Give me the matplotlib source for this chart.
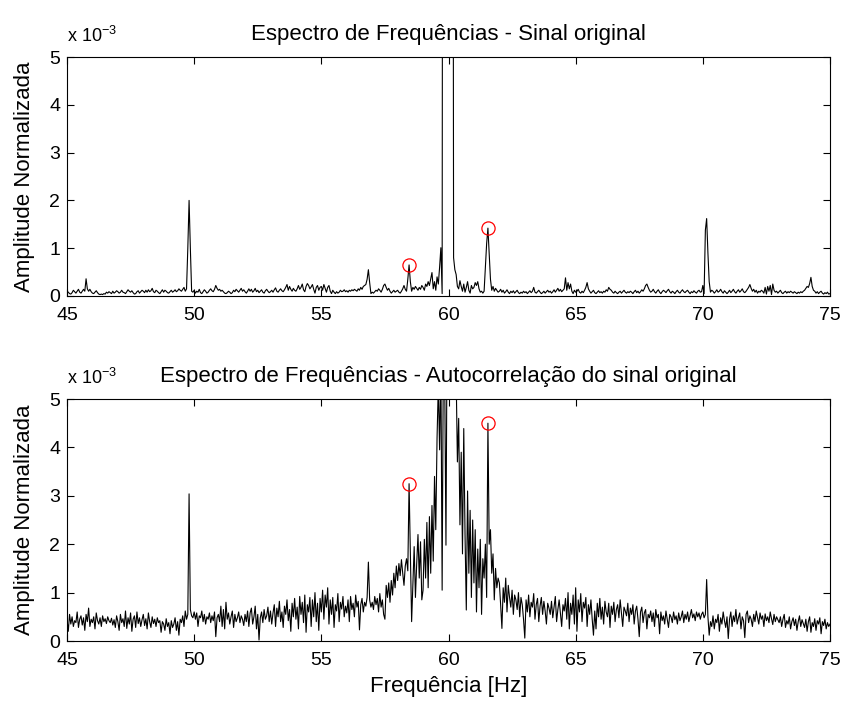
import numpy as np
import matplotlib
matplotlib.use("Agg")
import matplotlib.pyplot as plt

plt.rcParams['font.family'] = ['Liberation Sans', 'DejaVu Sans']
plt.rcParams['mathtext.default'] = 'regular'

# Frequency grid (Hz), 0.05 Hz resolution
freqs = np.round(np.linspace(45.0, 75.0, 601), 2)

# Normalised amplitude of the original signal spectrum (x 1e-3), one row per Hz
amp_original = [
    0.10, 0.08, 0.05, 0.04, 0.07, 0.12, 0.09, 0.06, 0.10, 0.14, 0.08, 0.06, 0.10, 0.14, 0.10, 0.36, 0.15, 0.10, 0.14, 0.09,
    0.06, 0.05, 0.08, 0.11, 0.07, 0.04, 0.03, 0.04, 0.03, 0.05, 0.04, 0.08, 0.06, 0.09, 0.07, 0.05, 0.10, 0.06, 0.08, 0.11,
    0.09, 0.06, 0.08, 0.12, 0.08, 0.07, 0.05, 0.09, 0.13, 0.10, 0.08, 0.11, 0.07, 0.04, 0.05, 0.09, 0.11, 0.06, 0.09, 0.12,
    0.10, 0.07, 0.12, 0.08, 0.13, 0.09, 0.11, 0.16, 0.09, 0.07, 0.12, 0.10, 0.07, 0.05, 0.09, 0.13, 0.08, 0.12, 0.10, 0.07,
    0.06, 0.09, 0.12, 0.08, 0.10, 0.13, 0.09, 0.11, 0.15, 0.12, 0.10, 0.14, 0.18, 0.10, 0.15, 1.00, 2.00, 1.00, 0.10, 0.08,
    0.12, 0.06, 0.10, 0.08, 0.14, 0.07, 0.05, 0.09, 0.13, 0.10, 0.06, 0.08, 0.12, 0.15, 0.11, 0.09, 0.14, 0.22, 0.16, 0.12,
    0.14, 0.10, 0.12, 0.09, 0.06, 0.05, 0.07, 0.10, 0.08, 0.05, 0.07, 0.12, 0.09, 0.14, 0.11, 0.08, 0.12, 0.16, 0.10, 0.13,
    0.09, 0.06, 0.10, 0.15, 0.10, 0.14, 0.08, 0.11, 0.16, 0.09, 0.12, 0.07, 0.10, 0.13, 0.08, 0.06, 0.11, 0.14, 0.10, 0.07,
    0.09, 0.12, 0.08, 0.13, 0.17, 0.10, 0.08, 0.12, 0.15, 0.11, 0.09, 0.13, 0.18, 0.24, 0.12, 0.20, 0.14, 0.10, 0.16, 0.12,
    0.10, 0.15, 0.22, 0.14, 0.18, 0.25, 0.13, 0.09, 0.20, 0.26, 0.22, 0.15, 0.19, 0.24, 0.14, 0.06, 0.18, 0.22, 0.12, 0.18,
    0.20, 0.12, 0.24, 0.16, 0.08, 0.18, 0.22, 0.10, 0.05, 0.12, 0.08, 0.05, 0.09, 0.06, 0.08, 0.12, 0.09, 0.10, 0.13, 0.09,
    0.11, 0.08, 0.12, 0.10, 0.13, 0.11, 0.14, 0.12, 0.10, 0.15, 0.12, 0.18, 0.14, 0.20, 0.22, 0.24, 0.35, 0.55, 0.28, 0.05,
    0.08, 0.06, 0.09, 0.12, 0.10, 0.15, 0.12, 0.08, 0.14, 0.22, 0.25, 0.18, 0.12, 0.16, 0.10, 0.06, 0.09, 0.12, 0.08, 0.10,
    0.12, 0.08, 0.06, 0.10, 0.15, 0.22, 0.14, 0.10, 0.35, 0.65, 0.30, 0.10, 0.18, 0.14, 0.20, 0.16, 0.12, 0.18, 0.14, 0.22,
    0.18, 0.12, 0.25, 0.20, 0.30, 0.22, 0.35, 0.49, 0.15, 0.30, 0.12, 0.40, 0.25, 0.60, 1.01, 0.05, 30.0, 45.0, 60.0, 75.0,
    80.0, 60.0, 40.0, 25.0, 0.80, 0.55, 0.45, 0.20, 0.15, 0.32, 0.20, 0.10, 0.25, 0.08, 0.18, 0.30, 0.12, 0.06, 0.22, 0.15,
    0.18, 0.28, 0.22, 0.30, 0.15, 0.08, 0.10, 0.06, 0.10, 0.60, 1.10, 1.42, 0.90, 0.35, 0.12, 0.20, 0.10, 0.16, 0.12, 0.08,
    0.10, 0.14, 0.08, 0.12, 0.06, 0.09, 0.13, 0.08, 0.05, 0.10, 0.07, 0.11, 0.06, 0.09, 0.12, 0.07, 0.05, 0.08, 0.06, 0.10,
    0.07, 0.09, 0.05, 0.08, 0.11, 0.07, 0.10, 0.18, 0.08, 0.06, 0.09, 0.12, 0.08, 0.05, 0.07, 0.10, 0.06, 0.09, 0.12, 0.08,
    0.10, 0.06, 0.09, 0.13, 0.08, 0.12, 0.16, 0.10, 0.14, 0.09, 0.12, 0.15, 0.38, 0.12, 0.28, 0.15, 0.25, 0.10, 0.05, 0.12,
    0.08, 0.10, 0.14, 0.08, 0.06, 0.10, 0.07, 0.12, 0.18, 0.28, 0.15, 0.10, 0.06, 0.09, 0.12, 0.07, 0.05, 0.08, 0.11, 0.07,
    0.09, 0.06, 0.10, 0.08, 0.13, 0.10, 0.18, 0.14, 0.12, 0.08, 0.06, 0.10, 0.07, 0.05, 0.08, 0.10, 0.06, 0.09, 0.12, 0.08,
    0.06, 0.09, 0.07, 0.10, 0.08, 0.05, 0.09, 0.12, 0.07, 0.10, 0.06, 0.09, 0.13, 0.10, 0.15, 0.22, 0.25, 0.18, 0.12, 0.08,
    0.10, 0.14, 0.09, 0.06, 0.10, 0.13, 0.08, 0.05, 0.09, 0.12, 0.10, 0.07, 0.11, 0.14, 0.09, 0.06, 0.10, 0.08, 0.05, 0.09,
    0.12, 0.08, 0.06, 0.10, 0.13, 0.09, 0.07, 0.10, 0.12, 0.08, 0.05, 0.09, 0.07, 0.11, 0.08, 0.06, 0.10, 0.12, 0.08, 0.09,
    0.22, 0.05, 1.38, 1.62, 0.90, 0.30, 0.08, 0.12, 0.10, 0.06, 0.09, 0.13, 0.08, 0.10, 0.14, 0.09, 0.06, 0.11, 0.08, 0.05,
    0.08, 0.12, 0.07, 0.10, 0.14, 0.09, 0.06, 0.10, 0.13, 0.08, 0.11, 0.15, 0.09, 0.07, 0.10, 0.14, 0.18, 0.24, 0.16, 0.10,
    0.14, 0.08, 0.12, 0.06, 0.10, 0.08, 0.12, 0.10, 0.06, 0.18, 0.04, 0.20, 0.10, 0.22, 0.03, 0.25, 0.12, 0.08, 0.10, 0.06,
    0.09, 0.12, 0.07, 0.05, 0.08, 0.10, 0.06, 0.09, 0.07, 0.10, 0.08, 0.06, 0.09, 0.07, 0.05, 0.08, 0.06, 0.09, 0.07, 0.10,
    0.12, 0.16, 0.20, 0.18, 0.26, 0.39, 0.20, 0.12, 0.10, 0.06, 0.09, 0.05, 0.08, 0.10, 0.06, 0.04, 0.07, 0.05, 0.08, 0.04,
    0.05,
]

# Normalised amplitude of the autocorrelation spectrum (x 1e-3), one row per Hz
amp_autocorr = [
    0.45, 0.20, 0.55, 0.35, 0.50, 0.30, 0.42, 0.38, 0.60, 0.28, 0.45, 0.52, 0.33, 0.48, 0.22, 0.55, 0.40, 0.68, 0.30, 0.45,
    0.38, 0.50, 0.25, 0.58, 0.42, 0.35, 0.48, 0.30, 0.52, 0.40, 0.46, 0.36, 0.50, 0.42, 0.38, 0.47, 0.33, 0.44, 0.28, 0.52,
    0.40, 0.22, 0.55, 0.38, 0.46, 0.30, 0.62, 0.26, 0.48, 0.35, 0.58, 0.20, 0.45, 0.52, 0.28, 0.60, 0.36, 0.48, 0.30, 0.44,
    0.55, 0.32, 0.46, 0.25, 0.58, 0.40, 0.28, 0.50, 0.36, 0.45, 0.30, 0.48, 0.38, 0.42, 0.18, 0.40, 0.35, 0.22, 0.46, 0.30,
    0.38, 0.15, 0.42, 0.28, 0.35, 0.48, 0.22, 0.40, 0.12, 0.45, 0.38, 0.52, 0.30, 0.62, 0.45, 0.55, 3.04, 0.65, 0.52, 0.48,
    0.60, 0.45, 0.58, 0.30, 0.52, 0.48, 0.62, 0.40, 0.55, 0.35, 0.50, 0.45, 0.58, 0.38, 0.52, 0.42, 0.60, 0.09, 0.48, 0.55,
    0.40, 0.72, 0.30, 0.65, 0.25, 0.80, 0.45, 0.58, 0.35, 0.50, 0.62, 0.28, 0.55, 0.40, 0.48, 0.60, 0.38, 0.52, 0.45, 0.32,
    0.55, 0.40, 0.62, 0.30, 0.58, 0.68, 0.35, 0.50, 0.72, 0.25, 0.55, 0.02, 0.48, 0.60, 0.38, 0.65, 0.45, 0.52, 0.70, 0.40,
    0.62, 0.35, 0.58, 0.75, 0.30, 0.68, 0.50, 0.82, 0.40, 0.60, 0.28, 0.72, 0.55, 0.85, 0.42, 0.65, 0.20, 0.78, 0.50, 0.88,
    0.45, 0.70, 0.25, 0.92, 0.55, 0.80, 0.38, 0.95, 0.18, 0.75, 0.60, 0.90, 0.30, 0.85, 0.50, 1.00, 0.40, 0.78, 0.22, 0.88,
    0.60, 1.05, 0.45, 0.95, 0.70, 1.10, 0.35, 0.85, 0.55, 0.90, 0.28, 0.75, 0.62, 0.98, 0.40, 0.80, 0.66, 0.92, 0.50, 0.72,
    0.58, 0.85, 0.40, 0.92, 0.65, 0.78, 0.50, 0.95, 0.70, 0.82, 0.23, 0.75, 0.88, 0.60, 0.80, 0.72, 0.90, 1.63, 0.85, 0.70,
    0.80, 0.65, 0.92, 0.75, 0.88, 0.60, 0.98, 0.70, 0.85, 0.55, 0.45, 1.15, 0.90, 1.20, 0.80, 1.25, 0.95, 1.40, 1.10, 1.55,
    1.25, 1.60, 1.35, 1.68, 1.40, 1.15, 1.55, 1.70, 1.45, 3.25, 1.80, 0.40, 1.20, 1.95, 0.90, 1.60, 2.20, 1.30, 2.05, 0.85,
    1.05, 2.10, 1.30, 2.45, 1.10, 2.57, 1.40, 2.80, 1.65, 3.40, 2.30, 4.20, 5.30, 3.95, 5.80, 1.05, 6.20, 5.50, 1.98, 7.00,
    8.00, 9.00, 8.50, 7.50, 6.50, 6.00, 5.50, 3.70, 4.60, 2.40, 3.90, 1.80, 4.39, 2.20, 0.64, 3.10, 1.40, 2.70, 0.90, 2.50,
    1.20, 2.30, 0.60, 1.90, 1.10, 2.10, 0.55, 1.70, 1.30, 2.00, 0.90, 4.50, 2.00, 2.30, 1.40, 1.80, 0.85, 1.50, 1.10, 1.30,
    1.20, 0.75, 0.26, 1.10, 0.80, 1.30, 0.60, 1.15, 0.90, 0.70, 1.05, 0.55, 0.95, 0.85, 0.65, 1.00, 0.50, 0.90, 0.75, 0.45,
    0.06, 0.85, 0.60, 0.95, 0.50, 0.80, 0.70, 0.98, 0.45, 0.75, 0.88, 0.40, 0.72, 0.90, 0.55, 0.82, 0.62, 0.35, 0.78, 0.68,
    0.55, 0.82, 0.48, 0.70, 0.92, 0.40, 0.65, 0.85, 0.58, 0.30, 0.75, 0.62, 0.88, 0.45, 1.00, 0.25, 0.78, 0.55, 0.95, 0.35,
    1.10, 0.20, 0.85, 0.60, 0.98, 0.40, 0.80, 0.68, 0.90, 0.30, 0.75, 0.55, 0.85, 0.45, 0.12, 0.62, 0.25, 0.78, 0.50, 0.88,
    0.45, 0.70, 0.35, 0.82, 0.60, 0.50, 0.78, 0.28, 0.72, 0.55, 0.80, 0.40, 0.65, 0.75, 0.48, 0.85, 0.58, 0.30, 0.70, 0.62,
    0.52, 0.78, 0.40, 0.68, 0.55, 0.75, 0.35, 0.62, 0.72, 0.45, 0.09, 0.60, 0.70, 0.38, 0.58, 0.65, 0.25, 0.55, 0.48, 0.62,
    0.40, 0.58, 0.30, 0.65, 0.48, 0.55, 0.15, 0.60, 0.42, 0.52, 0.35, 0.62, 0.45, 0.28, 0.55, 0.50, 0.38, 0.60, 0.44, 0.52,
    0.35, 0.58, 0.42, 0.50, 0.62, 0.38, 0.55, 0.45, 0.60, 0.40, 0.52, 0.65, 0.48, 0.56, 0.42, 0.60, 0.50, 0.58, 0.45, 0.55,
    0.60, 0.48, 0.55, 1.27, 0.50, 0.12, 0.40, 0.30, 0.52, 0.25, 0.45, 0.38, 0.55, 0.20, 0.48, 0.35, 0.60, 0.42, 0.28, 0.50,
    0.05, 0.45, 0.60, 0.30, 0.52, 0.40, 0.65, 0.35, 0.48, 0.58, 0.25, 0.50, 0.42, 0.07, 0.55, 0.62, 0.38, 0.52, 0.45, 0.30,
    0.55, 0.40, 0.62, 0.48, 0.35, 0.58, 0.45, 0.52, 0.30, 0.56, 0.42, 0.50, 0.38, 0.60, 0.46, 0.34, 0.55, 0.40, 0.50, 0.44,
    0.38, 0.50, 0.30, 0.45, 0.55, 0.28, 0.42, 0.35, 0.50, 0.25, 0.40, 0.48, 0.32, 0.45, 0.22, 0.40, 0.52, 0.30, 0.44, 0.36,
    0.28, 0.45, 0.20, 0.40, 0.50, 0.18, 0.38, 0.30, 0.46, 0.22, 0.42, 0.35, 0.48, 0.15, 0.40, 0.32, 0.45, 0.25, 0.38, 0.30,
    0.35,
]

# Sideband frequencies highlighted with circles (Hz)
marked_freqs = [58.45, 61.55]

titles = ["Espectro de Frequências - Sinal original",
          "Espectro de Frequências - Autocorrelação do sinal original"]
ylabel = "Amplitude Normalizada"
xlabel = "Frequência [Hz]"
xticks = [45, 50, 55, 60, 65, 70, 75]
yticks = [0, 1, 2, 3, 4, 5]

assert len(amp_original) == len(freqs) and len(amp_autocorr) == len(freqs)

fig = plt.figure(figsize=(8.45, 7.02), dpi=100)
ax_top = fig.add_axes([67 / 845, 1 - 296 / 702, 763 / 845, 239 / 702])
ax_bot = fig.add_axes([67 / 845, 1 - 641 / 702, 763 / 845, 242 / 702])

tick_fs = 14
label_fs = 16

for ax, amp, title in zip([ax_top, ax_bot], [amp_original, amp_autocorr], titles):
    amp = np.asarray(amp)
    ax.plot(freqs, amp, color='black', lw=0.8)
    idx = [int(np.argmin(np.abs(freqs - f))) for f in marked_freqs]
    ax.plot(freqs[idx], amp[idx], linestyle='none', marker='o', ms=9.5,
            mfc='none', mec='red', mew=0.9)
    ax.set_xlim(45, 75)
    ax.set_ylim(0, 5)
    ax.set_xticks(xticks)
    ax.set_yticks(yticks)
    ax.tick_params(direction='in', top=True, right=True, length=5,
                   width=0.8, labelsize=tick_fs)
    ax.tick_params(axis='x', pad=8)
    ax.tick_params(axis='y', pad=5)
    for sp in ax.spines.values():
        sp.set_linewidth(0.8)
    ax.set_title(title, fontsize=label_fs, pad=12)
    ax.set_ylabel(ylabel, fontsize=label_fs, labelpad=10)
    ax.annotate(r'x 10$^{-3}$', xy=(0, 1), xycoords='axes fraction',
                xytext=(0, 11), textcoords='offset points',
                fontsize=13, ha='left', va='baseline')

ax_bot.set_xlabel(xlabel, fontsize=label_fs, labelpad=5)

fig.savefig("out.png", dpi=100, facecolor='white')
